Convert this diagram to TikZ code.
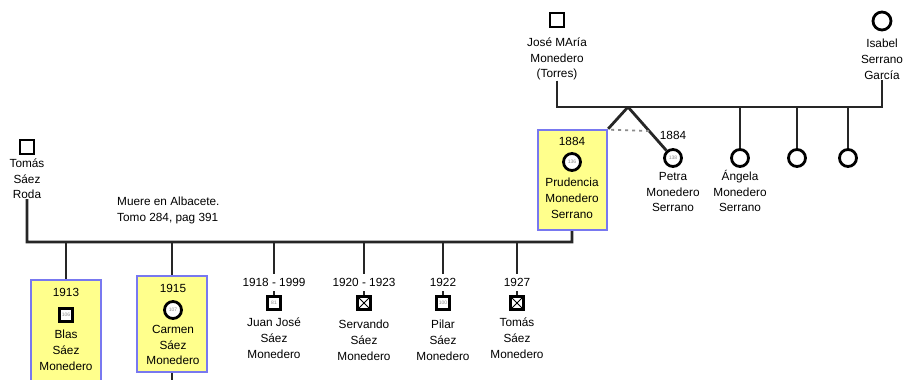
\documentclass[tikz,border=0pt]{standalone}
\usepackage{fontspec}
\setmainfont{Liberation Sans}
\usetikzlibrary{positioning}

\definecolor{boxfill}{RGB}{255,255,140}
\definecolor{boxline}{RGB}{120,120,240}
\newcommand{\namefont}{\fontsize{11.8}{15.8}\selectfont}
\newcommand{\numfont}{\fontsize{5}{5}\selectfont}

\begin{document}
\begin{tikzpicture}[x=1pt,y=-1pt]
\tikzstyle{male}=[rectangle, draw=black, fill=white, line width=2.8pt, minimum size=13pt, inner sep=0pt, font=\numfont, text=black!45]
\tikzstyle{female}=[circle, draw=black, fill=white, line width=2.8pt, minimum size=17pt, inner sep=0pt, font=\numfont, text=black!45]
\tikzstyle{dead}=[path picture={\draw[line width=0.9pt] (path picture bounding box.south west) -- (path picture bounding box.north east) (path picture bounding box.north west) -- (path picture bounding box.south east);}]
\tikzstyle{who}=[align=center, font=\namefont, inner sep=0pt]
\tikzstyle{year}=[font=\namefont, inner xsep=0pt, inner ysep=4pt]
\tikzstyle{direct}=[rectangle, draw=boxline, fill=boxfill, line width=2.4pt]
\tikzstyle{connect}=[line width=2.8pt, draw=black!85]
\tikzstyle{twin}=[line width=1.8pt, draw=black!45, dash pattern=on 3pt off 4pt]
  \useasboundingbox (0,0) rectangle (903,380);
  \clip (0,0) rectangle (903,380);
  \fill[white] (0,0) rectangle (903,380);

  % parents of Prudencia
  \node[male, minimum size=14pt] (jose) at (557,20) {};
  \node[who, below=9pt of jose] (jose-l) {José MAría\\Monedero\\(Torres)};
  \node[female, minimum size=18pt] (isabel) at (882,21) {};
  \node[who, below=7.5pt of isabel] (isabel-l) {Isabel\\Serrano\\García};
  \coordinate (m1) at (557,107);
  \coordinate (m2) at (882,107);
  \coordinate (twins) at (628,107);
  \coordinate (tw-r) at (651,131);
  \draw[connect] (jose-l) -- (m1) -- (m2) -- (isabel-l);

  % Prudencia
  \node[direct, minimum width=69pt, minimum height=100pt] (prud-box) at (572.5,180) {};
  \node[female] (prud) at (572,162) {136};
  \node[year, above=2pt of prud] (prud-d) {1884};
  \node[who, below=6pt of prud] (prud-l) {Prudencia\\Monedero\\Serrano};

  % her sisters
  \node[female] (petra) at (673,158) {138};
  \node[year, above=4pt of petra] (petra-d) {1884};
  \node[who, below=4pt of petra] (petra-l) {Petra\\Monedero\\Serrano};
  \node[female] (angela) at (740,158) {};
  \node[who, below=2pt of angela] (angela-l) {Ángela\\Monedero\\Serrano};
  \node[female] (sis1) at (797,158) {};
  \node[female] (sis2) at (848,158) {};

  \draw[connect] (twins) -- (prud-box.north east);
  \draw[connect] (twins) -- (petra);
  \draw[twin] (prud-box.north east) ++(3,1) -- (tw-r);
  \draw[connect] (angela |- m1) -- (angela);
  \draw[connect] (sis1 |- m1) -- (sis1);
  \draw[connect] (sis2 |- m1) -- (sis2);

  % Tomas Saez Roda and his children
  \node[male, minimum size=14pt] (tomas) at (27,147) {};
  \node[who, below=3pt of tomas] (tomas-l) {Tomás\\Sáez\\Roda};
  \node[who, align=left, anchor=north west] (note) at (117,197) {Muere en Albacete.\\Tomo 284, pag 391};
  \coordinate (h1) at (27,242);
  \coordinate (h2) at (572,242);
  \draw[connect] (tomas-l) -- (h1) -- (h2) -- (prud-box);

  \node[direct, minimum width=70pt, minimum height=102pt] (blas-box) at (66,331) {};
  \node[male] (blas) at (66,315) {106};
  \node[year, above=6pt of blas] (blas-d) {1913};
  \node[who, below=7pt of blas] (blas-l) {Blas\\Sáez\\Monedero};

  \node[direct, minimum width=70pt, minimum height=96pt] (carmen-box) at (172,324) {};
  \node[female] (carmen) at (173,310) {107};
  \node[year, above=3pt of carmen] (carmen-d) {1915};
  \node[who, below=5pt of carmen] (carmen-l) {Carmen\\Sáez\\Monedero};
  \coordinate (carmen-sp) at (172,390);

  \node[male] (jj) at (274,303) {81};
  \node[year, above=4pt of jj] (jj-d) {1918 - 1999};
  \node[who, below=7pt of jj] (jj-l) {Juan José\\Sáez\\Monedero};

  \node[male, dead] (serv) at (364,303) {};
  \node[year, above=4pt of serv] (serv-d) {1920 - 1923};
  \node[who, below=9pt of serv] (serv-l) {Servando\\Sáez\\Monedero};

  \node[male] (pilar) at (443,303) {100};
  \node[year, above=4pt of pilar] (pilar-d) {1922};
  \node[who, below=9pt of pilar] (pilar-l) {Pilar\\Sáez\\Monedero};

  \node[male, dead] (tomas2) at (517,303) {};
  \node[year, above=4pt of tomas2] (tomas2-d) {1927};
  \node[who, below=7pt of tomas2] (tomas2-l) {Tomás\\Sáez\\Monedero};

  \draw[connect] (blas-box.north |- h1) -- (blas-box);
  \draw[connect] (carmen-box.north |- h1) -- (carmen-box);
  \draw[connect] (carmen-box) -- (carmen-sp);
  \draw[connect] (jj-d.north |- h1) -- (jj-d);
  \draw[connect] (serv-d.north |- h1) -- (serv-d);
  \draw[connect] (pilar-d.north |- h1) -- (pilar-d);
  \draw[connect] (tomas2-d.north |- h1) -- (tomas2-d);
  \draw[connect, line width=1.8pt] (jj-d) -- (jj);
  \draw[connect, line width=1.8pt] (serv-d) -- (serv);
  \draw[connect, line width=1.8pt] (pilar-d) -- (pilar);
  \draw[connect, line width=1.8pt] (tomas2-d) -- (tomas2);
\end{tikzpicture}
\end{document}
